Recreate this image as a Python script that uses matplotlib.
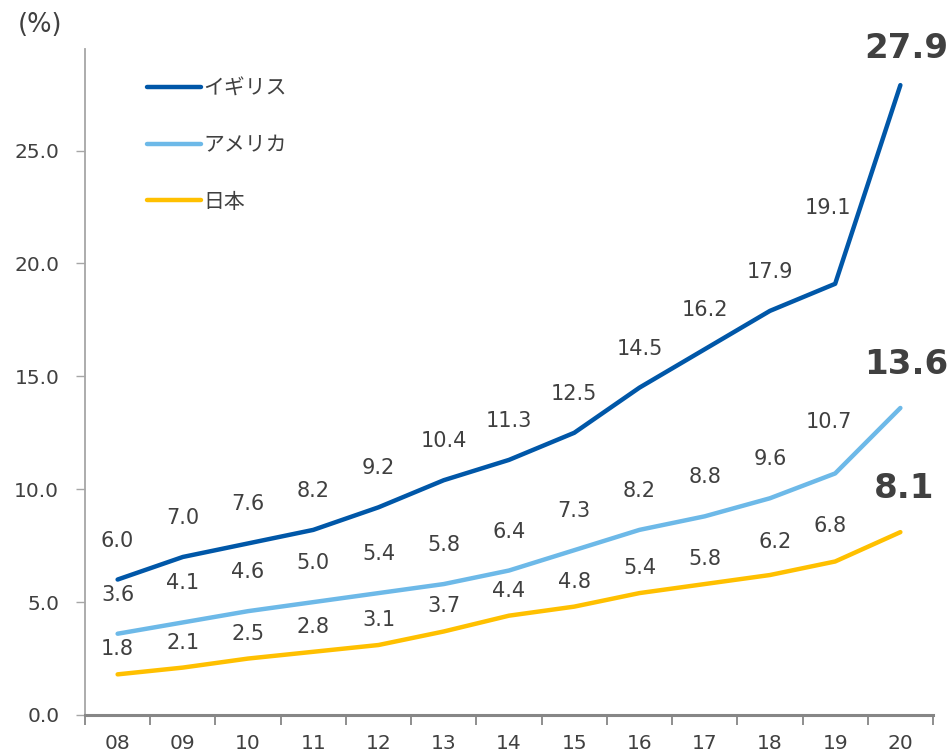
import matplotlib
matplotlib.use("Agg")
from matplotlib import pyplot as plt

years = ["08", "09", "10", "11", "12", "13", "14", "15", "16", "17", "18", "19", "20"]
uk = [6.0, 7.0, 7.6, 8.2, 9.2, 10.4, 11.3, 12.5, 14.5, 16.2, 17.9, 19.1, 27.9]
us = [3.6, 4.1, 4.6, 5.0, 5.4, 5.8, 6.4, 7.3, 8.2, 8.8, 9.6, 10.7, 13.6]
jp = [1.8, 2.1, 2.5, 2.8, 3.1, 3.7, 4.4, 4.8, 5.4, 5.8, 6.2, 6.8, 8.1]
names = ["イギリス", "アメリカ", "日本"]

TEXT = "#404040"


def main():
    plt.rcParams['font.family'] = ['DejaVu Sans', 'Noto Sans CJK JP']
    fig = plt.figure(figsize=(9.51, 7.54), dpi=100)
    ax = fig.add_axes([85 / 951, 39 / 754, 848 / 951, 666 / 754])

    x = list(range(len(years)))
    series = [
        (uk, "#0057A8", 39, {11: (-7, 76)}, (6, 37)),
        (us, "#6DB9E8", 39, {11: (-6, 51)}, (6, 43)),
        (jp, "#FFC000", 25, {10: (5, 33), 11: (-5, 35)}, (4, 44)),
    ]
    for (vals, col, off, special, last), name in zip(series, names):
        ax.plot(x, vals, color=col, lw=3.2, solid_capstyle='round',
                solid_joinstyle='round', label=name)
        for i, v in enumerate(vals):
            if i == len(vals) - 1:
                ax.annotate(f"{v:.1f}", (i, v), xytext=last,
                            textcoords='offset pixels', ha='center',
                            va='center', fontsize=24.5, fontweight='bold',
                            color=TEXT)
                continue
            dx, dy = special.get(i, (0, off))
            ax.annotate(f"{v:.1f}", (i, v), xytext=(dx, dy),
                        textcoords='offset pixels', ha='center',
                        va='center', fontsize=15, color=TEXT)

    ax.set_xlim(-0.5, len(years) - 0.5)
    ax.set_ylim(0, 29.5)
    ax.set_yticks([0, 5, 10, 15, 20, 25])
    ax.set_yticklabels([f"{t:.1f}" for t in [0, 5, 10, 15, 20, 25]])
    ax.set_xticks([i - 0.5 for i in range(len(years) + 1)])
    ax.set_xticklabels([])
    ax.set_xticks(x, minor=True)
    ax.set_xticklabels(years, minor=True)

    for s in ["top", "right"]:
        ax.spines[s].set_visible(False)
    ax.spines["left"].set_color("#A6A6A6")
    ax.spines["left"].set_linewidth(1.3)
    ax.spines["bottom"].set_color("#868686")
    ax.spines["bottom"].set_linewidth(2.2)
    ax.tick_params(axis='y', length=6.5, width=1, color="#A6A6A6",
                   labelsize=14.5, labelcolor=TEXT, pad=12)
    ax.tick_params(axis='x', which='major', length=7, width=1.3,
                   color="#868686")
    ax.tick_params(axis='x', which='minor', length=0, labelsize=14.5,
                   labelcolor=TEXT, pad=14)

    fig.text(40 / 951, 1 - 25 / 754, "(%)", ha='center', va='center',
             fontsize=18.5, color=TEXT)

    leg = ax.legend(loc='upper left', bbox_to_anchor=(128 / 951, 1 - 60 / 754),
                    bbox_transform=fig.transFigure, frameon=False,
                    fontsize=15, handlelength=2.6, handletextpad=0.1,
                    labelspacing=1.75)
    for t in leg.get_texts():
        t.set_color(TEXT)

    fig.savefig("out.png", dpi=100)


if __name__ == "__main__":
    main()
